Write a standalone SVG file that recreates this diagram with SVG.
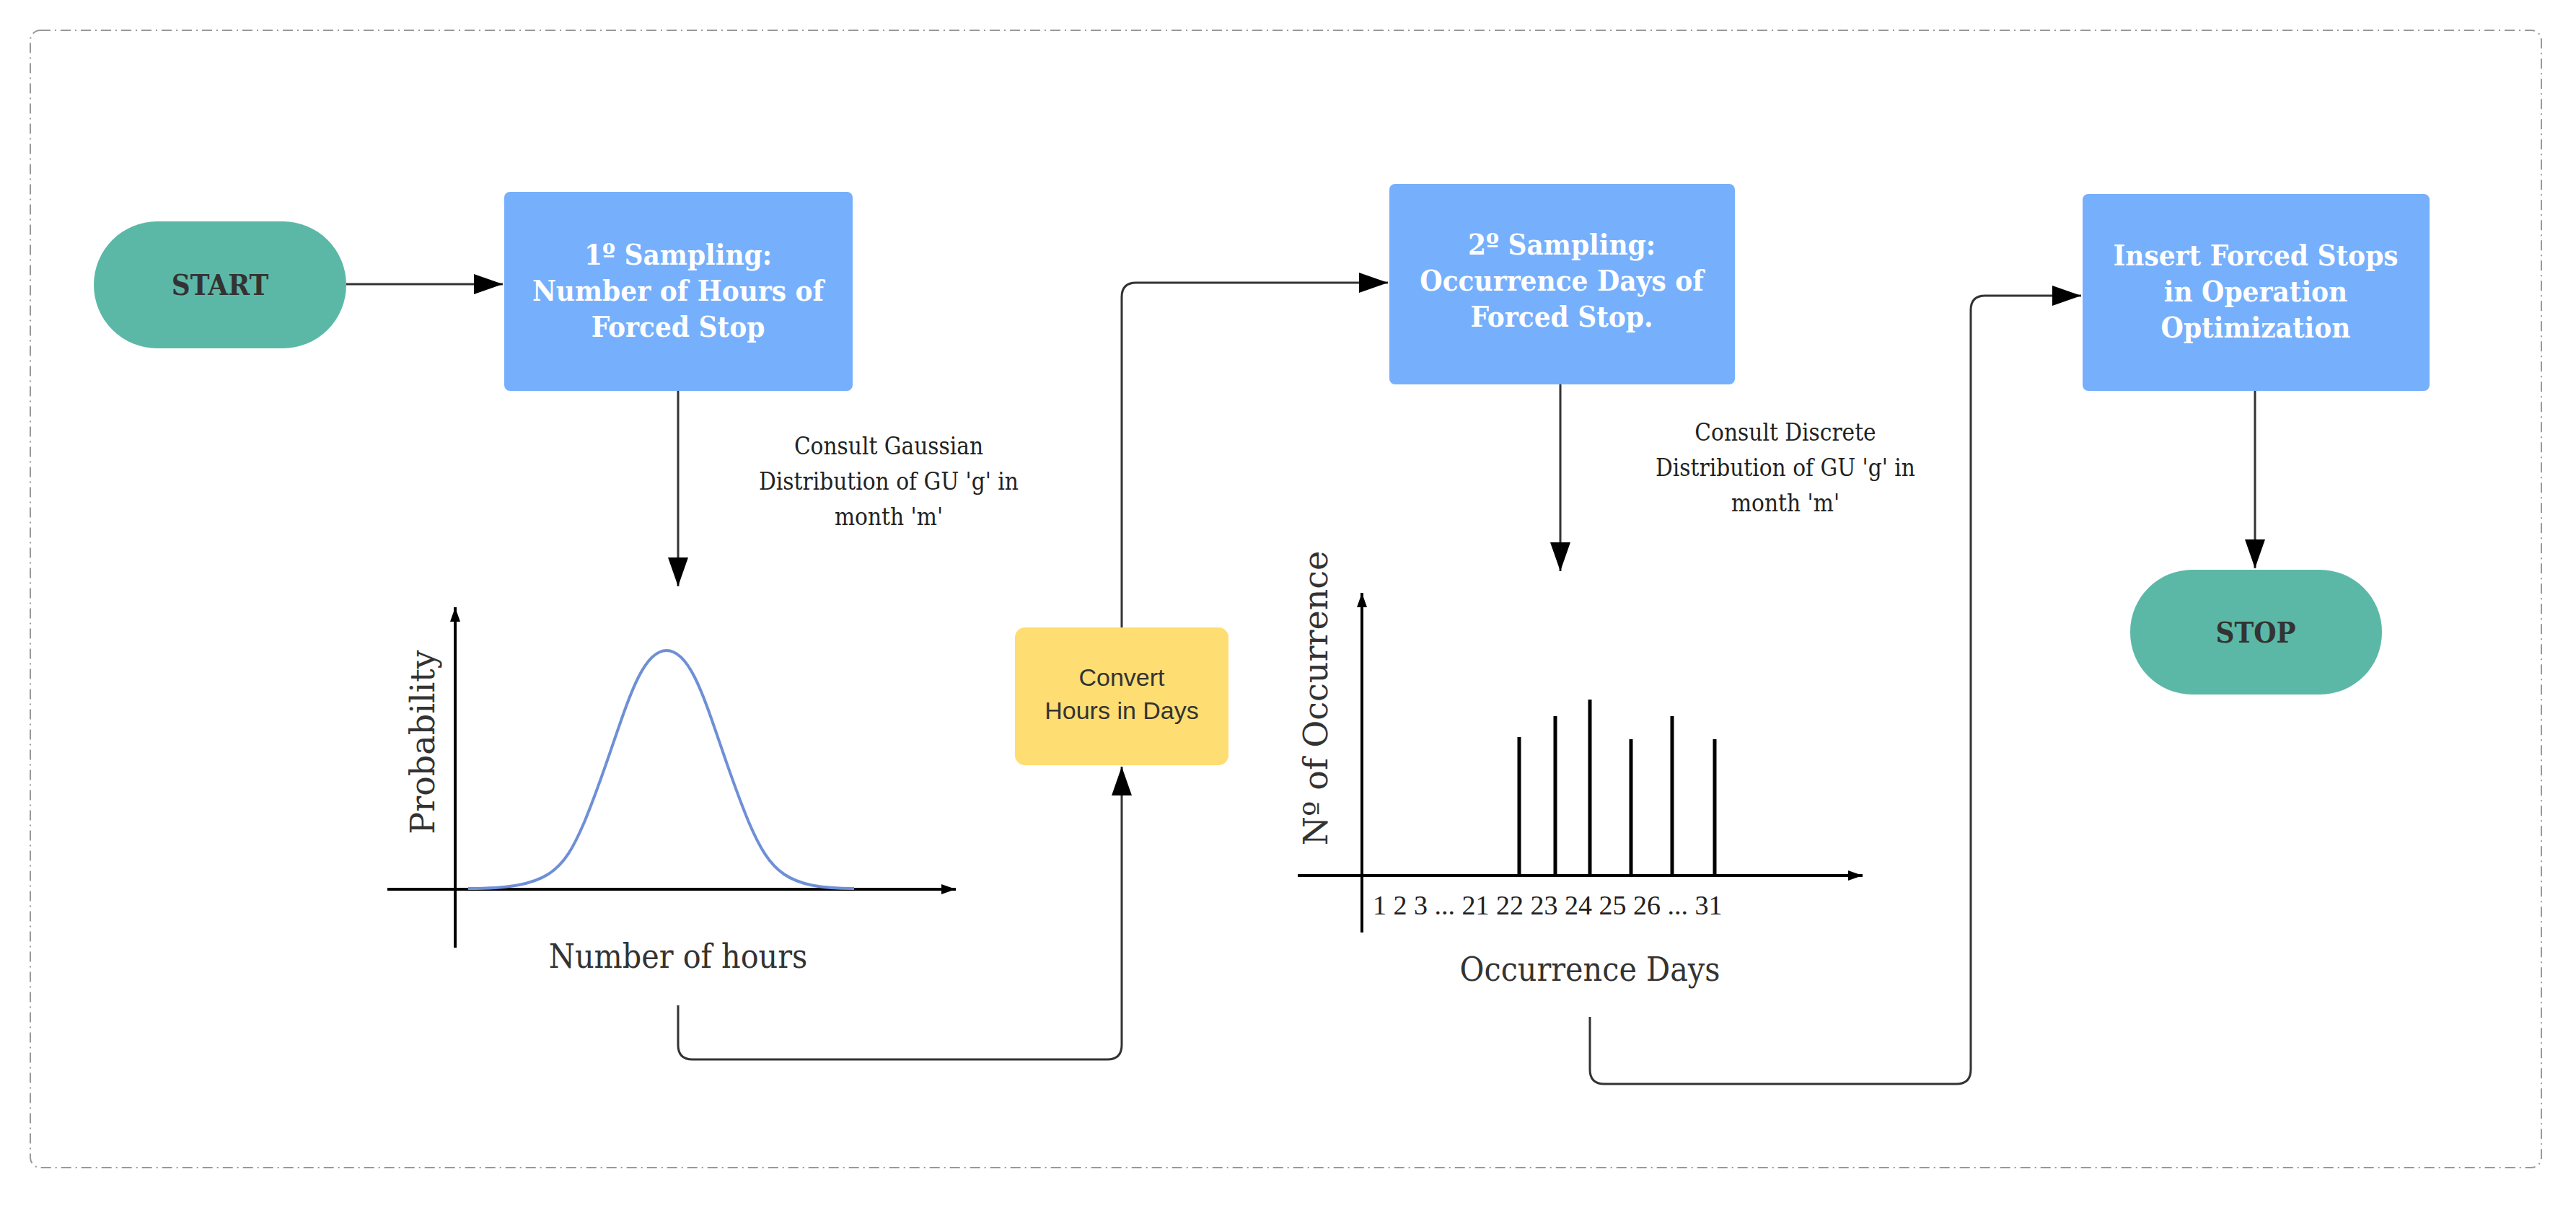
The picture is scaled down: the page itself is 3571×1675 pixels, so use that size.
<svg xmlns="http://www.w3.org/2000/svg" width="3571" height="1675" viewBox="0 0 3571 1675">
<defs>
<style>
.bx{font-family:"DejaVu Serif Condensed","DejaVu Serif",serif;font-weight:bold;font-size:40px;fill:#fff;text-anchor:middle}
.term{font-family:"DejaVu Serif Condensed","DejaVu Serif",serif;font-weight:bold;font-size:40px;fill:#333;text-anchor:middle}
.lbl{font-family:"DejaVu Serif Condensed","DejaVu Serif",serif;font-size:33px;fill:#222;text-anchor:middle}
.ax{font-family:"DejaVu Serif Condensed","DejaVu Serif",serif;font-size:46px;fill:#333;text-anchor:middle}
.yl{font-family:"DejaVu Serif","Liberation Serif",serif;font-size:46px;fill:#333;text-anchor:middle}
.tk{font-family:"Liberation Serif",serif;font-size:38px;fill:#222}
.conn{fill:none;stroke:#333;stroke-width:3}
.axis{stroke:#000;stroke-width:4;fill:none}
</style>
<marker id="ah" viewBox="0 0 10 10" refX="10" refY="5" markerWidth="14" markerHeight="14" markerUnits="userSpaceOnUse" orient="auto"><path d="M0,0 L10,5 L0,10 z" fill="#333"/></marker>
<marker id="ah2" viewBox="0 0 10 10" refX="10" refY="5" markerWidth="40" markerHeight="28" markerUnits="userSpaceOnUse" orient="auto" preserveAspectRatio="none"><path d="M0,0 L10,5 L0,10 z" fill="#000"/></marker>
<marker id="ah3" viewBox="0 0 10 10" refX="10" refY="5" markerWidth="20" markerHeight="14" markerUnits="userSpaceOnUse" orient="auto" preserveAspectRatio="none"><path d="M0,0 L10,5 L0,10 z" fill="#000"/></marker>
</defs>
<rect x="42" y="42" width="3481" height="1577" rx="14" fill="none" stroke="#999" stroke-width="2" stroke-dasharray="14,6,2,6"/>
<g id="connectors">
<path class="conn" d="M480,394 H697" marker-end="url(#ah2)"/>
<path class="conn" d="M940,542 V813" marker-end="url(#ah2)"/>
<path class="conn" d="M940,1394 V1449 Q940,1469 960,1469 H1535 Q1555,1469 1555,1449 V1063" marker-end="url(#ah2)"/>
<path class="conn" d="M1555,870 V412 Q1555,392 1575,392 H1924" marker-end="url(#ah2)"/>
<path class="conn" d="M2163,533 V792" marker-end="url(#ah2)"/>
<path class="conn" d="M2204,1410 V1483 Q2204,1503 2224,1503 H2712 Q2732,1503 2732,1483 V430 Q2732,410 2752,410 H2885" marker-end="url(#ah2)"/>
<path class="conn" d="M3126,542 V788" marker-end="url(#ah2)"/>
</g>
<g id="start"><rect x="130" y="307" width="350" height="176" rx="88" fill="#5cb8a6"/><text class="term" x="305" y="409">START</text></g>
<g id="sampling1"><rect x="699" y="266" width="483" height="276" rx="8" fill="#76b0fc"/>
<text class="bx" x="940" y="367">1º  Sampling:</text><text class="bx" x="940" y="417">Number of Hours of</text><text class="bx" x="940" y="467">Forced Stop</text></g>
<g id="label1"><text class="lbl" x="1232" y="630">Consult Gaussian</text><text class="lbl" x="1232" y="679">Distribution of GU 'g' in</text><text class="lbl" x="1232" y="728">month 'm'</text></g>
<g id="gaussian">
<path class="axis" d="M631,1314 V842" marker-end="url(#ah3)"/>
<path class="axis" d="M537,1233 H1325" marker-end="url(#ah3)"/>
<path d="M649,1232 C760,1232 780,1210 810,1140 C860,1020 880,902 924,902 C968,902 988,1020 1038,1140 C1068,1210 1090,1232 1184,1232" fill="none" stroke="#6f8fd6" stroke-width="4"/>
<text class="yl" transform="translate(602,1029) rotate(-90)">Probability</text>
<text class="ax" x="940" y="1342">Number of hours</text>
</g>
<g id="convert"><rect x="1407" y="870" width="296" height="191" rx="14" fill="#fedd72"/>
<text x="1555" y="951" font-family="Liberation Sans,Arial,sans-serif" font-size="34" fill="#333" text-anchor="middle">Convert</text>
<text x="1555" y="997" font-family="Liberation Sans,Arial,sans-serif" font-size="34" fill="#333" text-anchor="middle">Hours in Days</text></g>
<g id="sampling2"><rect x="1926" y="255" width="479" height="278" rx="8" fill="#76b0fc"/>
<text class="bx" x="2165" y="353">2º  Sampling:</text><text class="bx" x="2165" y="403">Occurrence Days of</text><text class="bx" x="2165" y="453">Forced Stop.</text></g>
<g id="label2"><text class="lbl" x="2475" y="611">Consult Discrete</text><text class="lbl" x="2475" y="660">Distribution of GU 'g' in</text><text class="lbl" x="2475" y="709">month 'm'</text></g>
<g id="bars">
<path class="axis" d="M1888,1293 V822" marker-end="url(#ah3)"/>
<path class="axis" d="M1799,1214 H2582" marker-end="url(#ah3)"/>
<path stroke="#000" stroke-width="5" d="M2106,1214V1022M2156,1214V993M2204,1214V970M2261,1214V1025M2318,1214V993M2377,1214V1025"/>
<text class="tk" x="1903" y="1268">1 2 3 ...  21 22 23 24 25 26 ... 31</text>
<text class="yl" transform="translate(1840,968) rotate(-90)">Nº of Occurrence</text>
<text class="ax" x="2204" y="1360">Occurrence Days</text>
</g>
<g id="insert"><rect x="2887" y="269" width="481" height="273" rx="8" fill="#76b0fc"/>
<text class="bx" x="3127" y="368">Insert Forced Stops</text><text class="bx" x="3127" y="418">in Operation</text><text class="bx" x="3127" y="468">Optimization</text></g>
<g id="stop"><rect x="2953" y="790" width="349" height="173" rx="86" fill="#5cb8a6"/><text class="term" x="3127" y="891">STOP</text></g>
</svg>
